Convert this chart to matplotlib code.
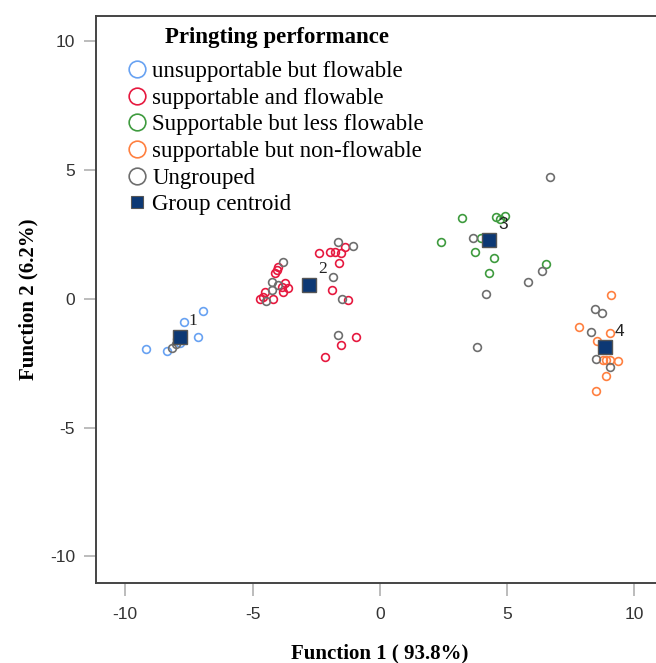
import matplotlib
matplotlib.use("Agg")
import matplotlib.pyplot as plt
from matplotlib.lines import Line2D

plt.rcParams["axes.unicode_minus"] = False

# discriminant scores
g1_x = [-6.96, -7.69, -7.16, -9.20, -8.38, -7.86]
g1_y = [-0.47, -0.90, -1.49, -1.94, -2.02, -1.72]

g2_x = [-2.40, -1.94, -1.77, -1.54, -1.37, -1.61, -1.90, -1.24, -0.92, -1.52, -2.16,
        -4.12, -4.06, -4.00, -3.73, -3.60, -3.80, -4.52, -4.71, -4.19, -4.58, -3.86]
g2_y = [1.77, 1.84, 1.81, 1.77, 2.03, 1.39, 0.35, -0.04, -1.46, -1.80, -2.25,
        1.00, 1.13, 1.25, 0.61, 0.41, 0.28, 0.28, 0.00, 0.00, 0.09, 0.48]

g3_x = [3.21, 4.58, 4.91, 4.72, 2.42, 3.99, 3.73, 4.48, 4.28, 6.51]
g3_y = [3.13, 3.17, 3.22, 3.12, 2.23, 2.36, 1.84, 1.60, 1.00, 1.35]

g4_x = [9.07, 7.83, 9.03, 8.51, 8.90, 9.03, 9.37, 8.77, 8.88, 8.48]
g4_y = [0.16, -1.10, -1.33, -1.62, -2.37, -2.37, -2.41, -2.37, -2.98, -3.57]

ung_x = [-8.15, -8.00, -7.95,
         -1.64, -1.05, -1.83, -1.47, -1.64, -3.80, -4.25, -4.00, -4.25, -4.48,
         3.66, 6.37, 5.80, 4.15, 3.80, 6.68,
         8.44, 8.71, 8.29, 8.48, 9.03]
ung_y = [-1.90, -1.75, -1.55,
         2.23, 2.06, 0.87, 0.00, -1.40, 1.45, 0.67, 0.54, 0.35, -0.07,
         2.36, 1.09, 0.65, 0.18, -1.85, 4.75,
         -0.40, -0.56, -1.27, -2.34, -2.65]

cent_x = [-7.86, -2.79, 4.29, 8.86]
cent_y = [-1.46, 0.54, 2.29, -1.88]
cent_lab = ["1", "2", "3", "4"]

group_names = ["unsupportable but flowable", "supportable and flowable",
               "Supportable but less flowable", "supportable but non-flowable",
               "Ungrouped"]
colors = ["#68a2f2", "#e6193f", "#3f9b3f", "#ff8040", "#6e6e6e"]
navy = "#0c3874"

fig = plt.figure(figsize=(6.56, 6.63), dpi=100)
W, H = 656, 663
xmin, xmax = -11.15, 11.3
ymin, ymax = -11.03, 11.0
left, top, bottom = 96, 15.7, 583
axw = (xmax - xmin) * 25.46
ax = fig.add_axes([left / W, (H - bottom) / H, axw / W, (bottom - top) / H])
ax.set_xlim(xmin, xmax)
ax.set_ylim(ymin, ymax)

serif = ["Liberation Serif", "DejaVu Serif"]
sans = ["Liberation Sans", "DejaVu Sans"]

xs = [g1_x, g2_x, g3_x, g4_x, ung_x]
ys = [g1_y, g2_y, g3_y, g4_y, ung_y]
for gx, gy, c in zip(xs, ys, colors):
    ax.plot(gx, gy, "o", ms=5.6, mfc="none", mec=c, mew=1.2, ls="none")

ax.plot(cent_x, cent_y, "s", ms=10.5, mfc=navy, mec="#555555", mew=1.0, ls="none", zorder=5)
for cx, cy, t in zip(cent_x, cent_y, cent_lab):
    fam = serif if t in ("1", "2") else sans
    ax.annotate(t, (cx, cy), xytext=(9, 8), textcoords="offset pixels",
                ha="left", va="bottom", fontsize=12.5, family=fam, color="#222222")

ax.set_xticks([-10, -5, 0, 5, 10])
ax.set_yticks([-10, -5, 0, 5, 10])
ax.tick_params(direction="out", length=9, width=1.2, color="#b0b0b0",
               labelcolor="#333333", labelsize=12.5, pad=6)
ax.tick_params(axis="x", pad=8)
for lab in ax.get_xticklabels() + ax.get_yticklabels():
    lab.set_family(sans)
for s in ax.spines.values():
    s.set_color("#444444")
    s.set_linewidth(1.4)

ax.set_xlabel("Function 1 ( 93.8%)", family=serif, fontweight="bold", fontsize=15)
ax.set_ylabel("Function 2 (6.2%)", family=serif, fontweight="bold", fontsize=15)
ax.xaxis.set_label_coords((380 - left) / axw, -(643 - bottom) / (bottom - top))
ax.yaxis.set_label_coords((38 - left) / axw, (bottom - 299) / (bottom - top))

handles = [Line2D([], [], marker="o", ls="none", ms=12, mfc="none", mec=c, mew=1.2)
           for c in colors]
handles.append(Line2D([], [], marker="s", ls="none", ms=9, mfc=navy, mec="#555555", mew=0.8))
leg = ax.legend(handles, group_names + ["Group centroid"],
                loc="upper left", bbox_to_anchor=(128 / W, (H - 61) / H),
                bbox_transform=fig.transFigure, frameon=False,
                prop={"family": serif, "size": 16.5}, handlelength=0.8, handletextpad=0.25,
                labelspacing=0.245, borderaxespad=0, borderpad=0)
fig.text(277 / W, (H - 37) / H, "Pringting performance", ha="center", va="center",
         family=serif, fontweight="bold", fontsize=16.5)

fig.savefig("out.png", dpi=100)
